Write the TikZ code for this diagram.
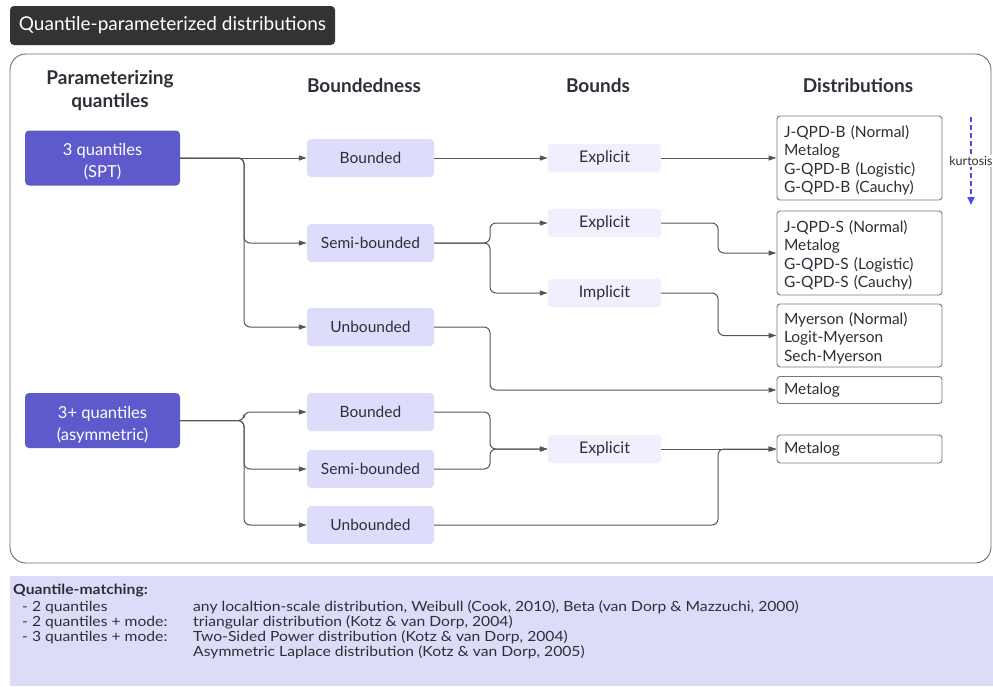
\documentclass[tikz,border=0pt]{standalone}
\usepackage{fontspec}
\setmainfont{Lato}
\usetikzlibrary{arrows.meta}
\definecolor{darkbox}{HTML}{333333}
\definecolor{purp}{HTML}{5E5ACC}
\definecolor{lavbox}{HTML}{DDDCFB}
\definecolor{palebox}{HTML}{EFEFFD}
\definecolor{panel}{HTML}{DCDCF9}
\definecolor{linec}{HTML}{555555}
\definecolor{txt}{HTML}{2E2E38}
\definecolor{kblue}{HTML}{4B4BF0}
\newcommand{\wide}[1]{\scalebox{1.12}[1]{#1}}
\newcommand{\toppad}{\rule{0pt}{17pt}}
\newcommand{\qpad}{\rule{0pt}{20pt}}
\tikzset{
  hdr/.style={font=\fontsize{19}{23}\selectfont\bfseries, text=txt, align=center},
  qbox/.style={fill=purp, rounded corners=4, minimum width=155pt, minimum height=55pt, text=white, align=center, font=\fontsize{16.5}{22}\selectfont, inner sep=0pt},
  bbox/.style={fill=lavbox, rounded corners=4, minimum width=127pt, minimum height=38pt, text=txt, font=\fontsize{15.5}{18}\selectfont, inner sep=0pt},
  pbox/.style={fill=palebox, rounded corners=3, minimum width=113pt, minimum height=28pt, text=txt, font=\fontsize{16}{18}\selectfont, inner sep=0pt},
  dbox/.style={draw=linec!80, line width=0.9pt, fill=white, rounded corners=3, minimum width=165pt, text width=151pt, inner xsep=7pt, inner ysep=0pt, align=left, text=txt, font=\fontsize{15.5}{18.5}\selectfont},
  conn/.style={draw=linec, line width=1pt, rounded corners=6, -{Triangle[length=8pt,width=5pt]}},
  ptext/.style={anchor=west, text=txt, font=\fontsize{14}{15}\selectfont, inner sep=0pt},
}
\begin{document}
\begin{tikzpicture}[x=1pt,y=-1pt]
\useasboundingbox (0,0) rectangle (993,686);
% title
\node[fill=darkbox, rounded corners=4, minimum width=325pt, minimum height=39pt, inner sep=0pt, text=white, font=\fontsize{19}{22}\selectfont] (title) at (172.5,25.5) {Quantile-parameterized distributions};
% frame
\draw[draw=linec!85, line width=0.9pt, rounded corners=16] (10,54) rectangle (991,563);
% headers
\node[hdr] (h1) at (110,90.5) {Parameterizing\\quantiles};
\node[hdr] (h2) at (364,86) {Boundedness};
\node[hdr] (h3) at (598,86) {Bounds};
\node[hdr] (h4) at (858,86) {Distributions};
% quantile boxes
\node[qbox] (q3) at (102.5,158) {\qpad 3 quantiles\\(SPT)};
\node[qbox] (q3p) at (102.5,420.5) {\qpad 3+ quantiles\\(asymmetric)};
% boundedness
\node[bbox] (b1) at (370.5,158) {Bounded};
\node[bbox] (s1) at (370.5,243) {Semi-bounded};
\node[bbox] (u1) at (370.5,327) {Unbounded};
\node[bbox] (b2) at (370.5,412) {Bounded};
\node[bbox] (s2) at (370.5,469) {Semi-bounded};
\node[bbox] (u2) at (370.5,525) {Unbounded};
% bounds
\node[pbox] (e1) at (604.5,158) {Explicit};
\node[pbox] (e2) at (604.5,223) {Explicit};
\node[pbox] (im) at (604.5,293) {Implicit};
\node[pbox] (e3) at (604.5,449) {Explicit};
% distributions
\node[dbox, minimum height=84pt] (d1) at (859.5,158) {\toppad J-QPD-B (Normal)\\Metalog\\G-QPD-B (Logistic)\\G-QPD-B (Cauchy)};
\node[dbox, minimum height=84pt] (d2) at (859.5,253) {\toppad J-QPD-S (Normal)\\Metalog\\G-QPD-S (Logistic)\\G-QPD-S (Cauchy)};
\node[dbox, minimum height=63pt] (d3) at (859.5,335.5) {\toppad Myerson (Normal)\\Logit-Myerson\\Sech-Myerson};
\node[dbox, minimum height=27pt] (d4) at (859.5,390) {Metalog};
\node[dbox, minimum height=28pt] (d5) at (859.5,449) {Metalog};
% junctions
\coordinate (j1) at (244,158);
\coordinate (j2) at (490,243);
\coordinate (j3) at (490,327);
\coordinate (j4) at (718,223);
\coordinate (j5) at (718,293);
\coordinate (j6) at (244,420.5);
\coordinate (j7) at (490,412);
\coordinate (j8) at (490,469);
\coordinate (j9) at (718,525);
% connectors
\draw[conn] (q3.east) -- (b1.west);
\draw[conn] (q3.east) -- (j1) |- (s1.west);
\draw[conn] (q3.east) -- (j1) |- (u1.west);
\draw[conn] (b1.east) -- (e1.west);
\draw[conn] (e1.east) -- (d1.west);
\draw[conn] (s1.east) -- (j2) |- (e2.west);
\draw[conn] (s1.east) -- (j2) |- (im.west);
\draw[conn] (e2.east) -- (j4) |- (d2.west);
\draw[conn] (im.east) -- (j5) |- (d3.west);
\draw[conn] (u1.east) -- (j3) |- (d4.west);
\draw[conn] (q3p.east) -- (j6) |- (b2.west);
\draw[conn] (q3p.east) -- (j6) |- (s2.west);
\draw[conn] (q3p.east) -- (j6) |- (u2.west);
\draw[conn] (b2.east) -- (j7) |- (e3.west);
\draw[conn] (s2.east) -- (j8) |- (e3.west);
\draw[conn] (e3.east) -- (d5.west);
\draw[conn] (u2.east) -- (j9) |- (d5.west);
% kurtosis
\coordinate (k1) at (971,117);
\coordinate (k2) at (971,205);
\draw[kblue, line width=1.8pt, dash pattern=on 5pt off 3pt, -{Triangle[length=8pt,width=7pt]}] (k1) -- (k2);
\node[fill=white, inner sep=1pt, text=txt, font=\fontsize{12.5}{14}\selectfont] (kl) at (971,161) {kurtosis};
% bottom panel
\fill[panel] (10,576) rectangle (993,686);
\node[ptext, font=\fontsize{14}{15}\selectfont\bfseries] (qm) at (13,591) {\wide{Quantile-matching:}};
\node[ptext] (r1a) at (22,607.5) {\wide{- 2 quantiles}};
\node[ptext] (r2a) at (22,622.5) {\wide{- 2 quantiles + mode:}};
\node[ptext] (r3a) at (22,637.5) {\wide{- 3 quantiles + mode:}};
\node[ptext] (r1b) at (193,607.5) {\wide{any localtion-scale distribution, Weibull (Cook, 2010), Beta (van Dorp \& Mazzuchi, 2000)}};
\node[ptext] (r2b) at (193,622.5) {\wide{triangular distribution (Kotz \& van Dorp, 2004)}};
\node[ptext] (r3b) at (193,637.5) {\wide{Two-Sided Power distribution (Kotz \& van Dorp, 2004)}};
\node[ptext] (r4b) at (193,652.5) {\wide{Asymmetric Laplace distribution (Kotz \& van Dorp, 2005)}};
\end{tikzpicture}
\end{document}
